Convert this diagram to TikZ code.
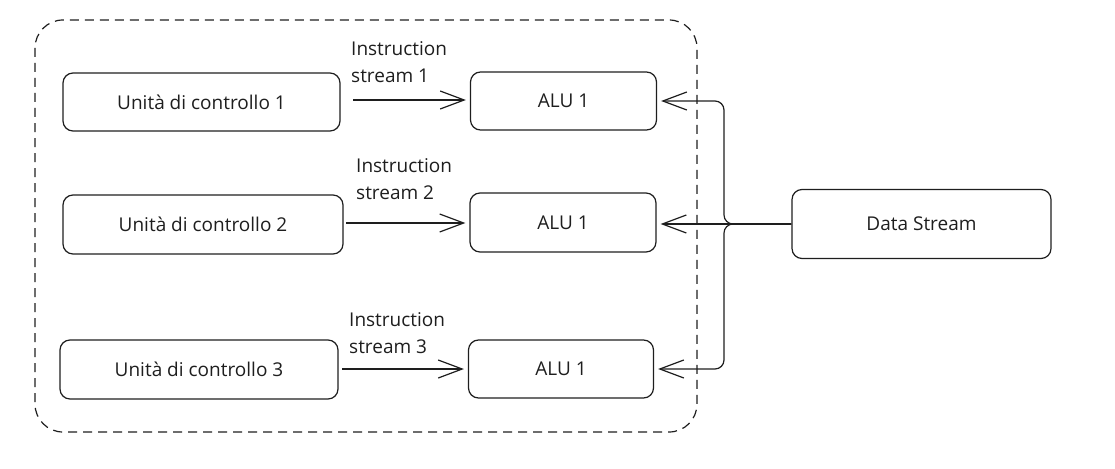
\documentclass[tikz,border=0pt]{standalone}
\usepackage{fontspec}
\setmainfont{Open Sans}
\usetikzlibrary{arrows.meta}
\definecolor{ink}{HTML}{1E1E1E}
\tikzset{
  box/.style={draw=ink, line width=1.2pt, rounded corners=10pt, inner sep=0pt, font=\fontsize{19}{22}\selectfont, text=ink},
  lbl/.style={align=left, inner sep=0pt, font=\fontsize{19}{27}\selectfont, text=ink, anchor=north west},
  arr/.style={draw=ink, line width=1.2pt, -{Straight Barb[length=24pt,width=18pt,line width=1.2pt]}, shorten >=4pt},
  frame/.style={draw=ink, line width=1.2pt, dash pattern=on 9pt off 6pt, rounded corners=28pt}
}
\begin{document}
\begin{tikzpicture}[x=1pt,y=-1pt]
\useasboundingbox (0,0) rectangle (1115,468);
\draw[frame] (35,20) rectangle (697,432);
\node[box, minimum width=277pt, minimum height=58pt] (u1) at (201.5,102) {Unità di controllo 1};
\node[box, minimum width=280pt, minimum height=59pt] (u2) at (203,224.5) {Unità di controllo 2};
\node[box, minimum width=278pt, minimum height=59pt] (u3) at (199,369.5) {Unità di controllo 3};
\node[box, minimum width=186pt, minimum height=58pt] (a1) at (563.5,101) {ALU 1};
\node[box, minimum width=186pt, minimum height=59pt] (a2) at (563,222.5) {ALU 1};
\node[box, minimum width=185pt, minimum height=58pt] (a3) at (561,369) {ALU 1};
\node[box, minimum width=259pt, minimum height=69pt] (ds) at (921.5,224) {Data Stream};
\node[lbl] (l1) at (351,41) {Instruction\\stream 1};
\node[lbl] (l2) at (356,158) {Instruction\\stream 2};
\node[lbl] (l3) at (349,312) {Instruction\\stream 3};
\coordinate (s1) at (353,100);
\coordinate (s2) at (346,223);
\coordinate (s3) at (342,369);
\draw[arr] (s1) -- (s1 -| a1.west);
\draw[arr] (s2) -- (s2 -| a2.west);
\draw[arr] (s3) -- (s3 -| a3.west);
\coordinate (j) at (724,224);
\draw[arr] (ds.west) -- (ds.west -| a2.east);
\draw[arr, rounded corners=9pt] (ds.west) -- (j) |- (a1.east);
\draw[arr, rounded corners=9pt] (ds.west) -- (j) |- (a3.east);
\end{tikzpicture}
\end{document}
